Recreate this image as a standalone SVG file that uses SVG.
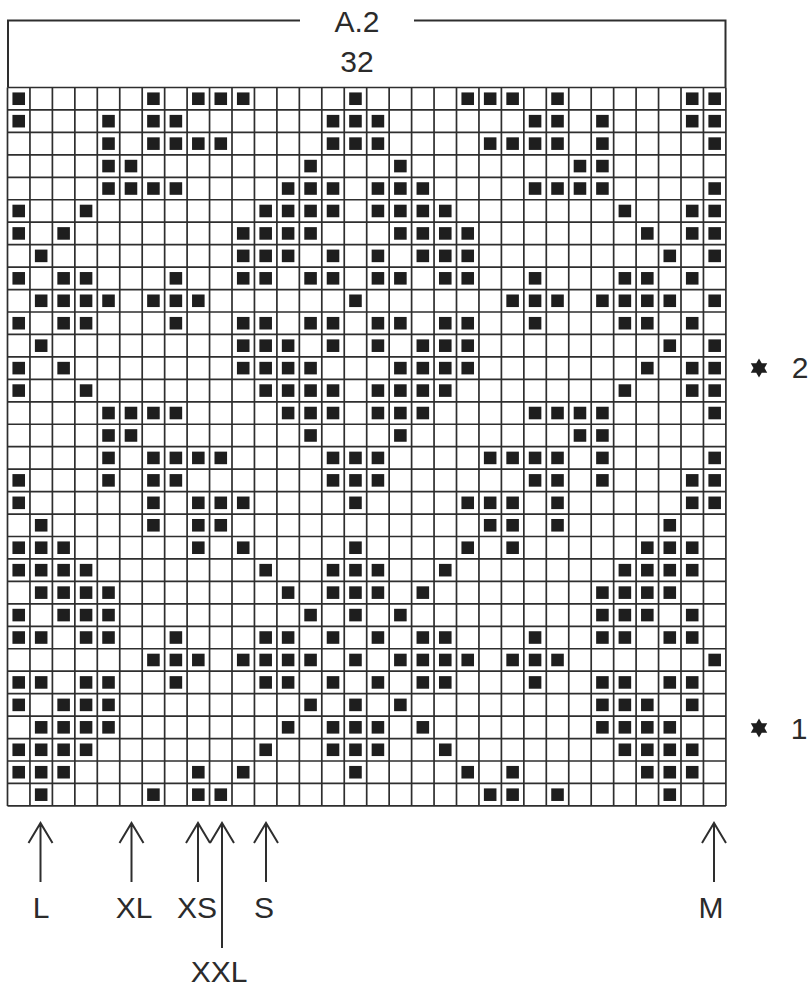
<svg xmlns="http://www.w3.org/2000/svg" xmlns:xlink="http://www.w3.org/1999/xlink" width="811" height="987" viewBox="0 0 811 987">
<style>
.t{font-family:"Liberation Sans",Arial,sans-serif;font-size:30px;fill:#2b2b2b;text-anchor:middle}
.ln{fill:none;stroke:#2e2e2e;stroke-width:2}
.grid{fill:none;stroke:#2e2e2e;stroke-width:1.7}
.sq{fill:#1e1e1e}
</style>
<defs>
<rect id="s" class="sq" x="0.22" y="0.22" width="0.56" height="0.56"/>
<g id="rA"><use href="#s" x="0"/><use href="#s" x="6"/><use href="#s" x="8"/><use href="#s" x="9"/><use href="#s" x="10"/><use href="#s" x="15"/><use href="#s" x="20"/><use href="#s" x="21"/><use href="#s" x="22"/><use href="#s" x="24"/><use href="#s" x="30"/><use href="#s" x="31"/></g>
<g id="rB"><use href="#s" x="0"/><use href="#s" x="4"/><use href="#s" x="6"/><use href="#s" x="7"/><use href="#s" x="14"/><use href="#s" x="15"/><use href="#s" x="16"/><use href="#s" x="23"/><use href="#s" x="24"/><use href="#s" x="26"/><use href="#s" x="30"/><use href="#s" x="31"/></g>
<g id="rC"><use href="#s" x="4"/><use href="#s" x="6"/><use href="#s" x="7"/><use href="#s" x="8"/><use href="#s" x="9"/><use href="#s" x="14"/><use href="#s" x="15"/><use href="#s" x="16"/><use href="#s" x="21"/><use href="#s" x="22"/><use href="#s" x="23"/><use href="#s" x="24"/><use href="#s" x="26"/><use href="#s" x="31"/></g>
<g id="rD"><use href="#s" x="4"/><use href="#s" x="5"/><use href="#s" x="13"/><use href="#s" x="17"/><use href="#s" x="25"/><use href="#s" x="26"/></g>
<g id="rE"><use href="#s" x="4"/><use href="#s" x="5"/><use href="#s" x="6"/><use href="#s" x="7"/><use href="#s" x="12"/><use href="#s" x="13"/><use href="#s" x="14"/><use href="#s" x="16"/><use href="#s" x="17"/><use href="#s" x="18"/><use href="#s" x="23"/><use href="#s" x="24"/><use href="#s" x="25"/><use href="#s" x="26"/><use href="#s" x="31"/></g>
<g id="rF"><use href="#s" x="0"/><use href="#s" x="3"/><use href="#s" x="11"/><use href="#s" x="12"/><use href="#s" x="13"/><use href="#s" x="14"/><use href="#s" x="16"/><use href="#s" x="17"/><use href="#s" x="18"/><use href="#s" x="19"/><use href="#s" x="27"/><use href="#s" x="30"/><use href="#s" x="31"/></g>
<g id="rG"><use href="#s" x="0"/><use href="#s" x="2"/><use href="#s" x="10"/><use href="#s" x="11"/><use href="#s" x="12"/><use href="#s" x="13"/><use href="#s" x="17"/><use href="#s" x="18"/><use href="#s" x="19"/><use href="#s" x="20"/><use href="#s" x="28"/><use href="#s" x="30"/><use href="#s" x="31"/></g>
<g id="rH"><use href="#s" x="1"/><use href="#s" x="10"/><use href="#s" x="11"/><use href="#s" x="12"/><use href="#s" x="14"/><use href="#s" x="16"/><use href="#s" x="18"/><use href="#s" x="19"/><use href="#s" x="20"/><use href="#s" x="29"/><use href="#s" x="31"/></g>
<g id="rI"><use href="#s" x="0"/><use href="#s" x="2"/><use href="#s" x="3"/><use href="#s" x="7"/><use href="#s" x="10"/><use href="#s" x="11"/><use href="#s" x="13"/><use href="#s" x="14"/><use href="#s" x="16"/><use href="#s" x="17"/><use href="#s" x="19"/><use href="#s" x="20"/><use href="#s" x="23"/><use href="#s" x="27"/><use href="#s" x="28"/><use href="#s" x="30"/></g>
<g id="rJ"><use href="#s" x="1"/><use href="#s" x="2"/><use href="#s" x="3"/><use href="#s" x="4"/><use href="#s" x="6"/><use href="#s" x="7"/><use href="#s" x="8"/><use href="#s" x="15"/><use href="#s" x="22"/><use href="#s" x="23"/><use href="#s" x="24"/><use href="#s" x="26"/><use href="#s" x="27"/><use href="#s" x="28"/><use href="#s" x="29"/><use href="#s" x="31"/></g>
<g id="rK"><use href="#s" x="1"/><use href="#s" x="6"/><use href="#s" x="8"/><use href="#s" x="9"/><use href="#s" x="21"/><use href="#s" x="22"/><use href="#s" x="24"/><use href="#s" x="29"/></g>
<g id="rL"><use href="#s" x="0"/><use href="#s" x="1"/><use href="#s" x="2"/><use href="#s" x="8"/><use href="#s" x="10"/><use href="#s" x="15"/><use href="#s" x="20"/><use href="#s" x="22"/><use href="#s" x="28"/><use href="#s" x="29"/><use href="#s" x="30"/></g>
<g id="rM"><use href="#s" x="0"/><use href="#s" x="1"/><use href="#s" x="2"/><use href="#s" x="3"/><use href="#s" x="11"/><use href="#s" x="14"/><use href="#s" x="15"/><use href="#s" x="16"/><use href="#s" x="19"/><use href="#s" x="27"/><use href="#s" x="28"/><use href="#s" x="29"/><use href="#s" x="30"/></g>
<g id="rN"><use href="#s" x="1"/><use href="#s" x="2"/><use href="#s" x="3"/><use href="#s" x="4"/><use href="#s" x="12"/><use href="#s" x="14"/><use href="#s" x="15"/><use href="#s" x="16"/><use href="#s" x="18"/><use href="#s" x="26"/><use href="#s" x="27"/><use href="#s" x="28"/><use href="#s" x="29"/></g>
<g id="rO"><use href="#s" x="0"/><use href="#s" x="2"/><use href="#s" x="3"/><use href="#s" x="4"/><use href="#s" x="13"/><use href="#s" x="15"/><use href="#s" x="17"/><use href="#s" x="26"/><use href="#s" x="27"/><use href="#s" x="28"/><use href="#s" x="30"/></g>
<g id="rP"><use href="#s" x="0"/><use href="#s" x="1"/><use href="#s" x="3"/><use href="#s" x="4"/><use href="#s" x="7"/><use href="#s" x="11"/><use href="#s" x="12"/><use href="#s" x="14"/><use href="#s" x="16"/><use href="#s" x="18"/><use href="#s" x="19"/><use href="#s" x="23"/><use href="#s" x="26"/><use href="#s" x="27"/><use href="#s" x="29"/><use href="#s" x="30"/></g>
<g id="rQ"><use href="#s" x="6"/><use href="#s" x="7"/><use href="#s" x="8"/><use href="#s" x="10"/><use href="#s" x="11"/><use href="#s" x="12"/><use href="#s" x="13"/><use href="#s" x="15"/><use href="#s" x="17"/><use href="#s" x="18"/><use href="#s" x="19"/><use href="#s" x="20"/><use href="#s" x="22"/><use href="#s" x="23"/><use href="#s" x="24"/><use href="#s" x="31"/></g>
<polygon id="star" points="0,-9.5 2.75,-4.76 8.23,-4.75 5.5,0 8.23,4.75 2.75,4.76 0,9.5 -2.75,4.76 -8.23,4.75 -5.5,0 -8.23,-4.75 -2.75,-4.76" fill="#1e1e1e"/>
</defs>
<rect width="811" height="987" fill="#ffffff"/>

<g id="header">
<path class="ln" d="M8,87.5V20.5H300M414,20.5H725.5V87.5"/>
<text class="t" x="357" y="32">A.2</text>
<text class="t" x="357" y="72">32</text>
</g>

<g id="chart" transform="translate(7.5,87.5) scale(22.45)">
<g id="cells">
<use href="#rA" y="0"/><use href="#rB" y="1"/><use href="#rC" y="2"/><use href="#rD" y="3"/>
<use href="#rE" y="4"/><use href="#rF" y="5"/><use href="#rG" y="6"/><use href="#rH" y="7"/>
<use href="#rI" y="8"/><use href="#rJ" y="9"/><use href="#rI" y="10"/><use href="#rH" y="11"/>
<use href="#rG" y="12"/><use href="#rF" y="13"/><use href="#rE" y="14"/><use href="#rD" y="15"/>
<use href="#rC" y="16"/><use href="#rB" y="17"/><use href="#rA" y="18"/><use href="#rK" y="19"/>
<use href="#rL" y="20"/><use href="#rM" y="21"/><use href="#rN" y="22"/><use href="#rO" y="23"/>
<use href="#rP" y="24"/><use href="#rQ" y="25"/><use href="#rP" y="26"/><use href="#rO" y="27"/>
<use href="#rN" y="28"/><use href="#rM" y="29"/><use href="#rL" y="30"/><use href="#rK" y="31"/>
</g>
<path class="grid" vector-effect="non-scaling-stroke" d="M0,0V32M1,0V32M2,0V32M3,0V32M4,0V32M5,0V32M6,0V32M7,0V32M8,0V32M9,0V32M10,0V32M11,0V32M12,0V32M13,0V32M14,0V32M15,0V32M16,0V32M17,0V32M18,0V32M19,0V32M20,0V32M21,0V32M22,0V32M23,0V32M24,0V32M25,0V32M26,0V32M27,0V32M28,0V32M29,0V32M30,0V32M31,0V32M32,0V32M0,0H32M0,1H32M0,2H32M0,3H32M0,4H32M0,5H32M0,6H32M0,7H32M0,8H32M0,9H32M0,10H32M0,11H32M0,12H32M0,13H32M0,14H32M0,15H32M0,16H32M0,17H32M0,18H32M0,19H32M0,20H32M0,21H32M0,22H32M0,23H32M0,24H32M0,25H32M0,26H32M0,27H32M0,28H32M0,29H32M0,30H32M0,31H32M0,32H32"/>
</g>

<g id="connectors">
<path class="ln" d="M40.5,823V882M28.5,843L40.5,823L52.5,843"/>
<path class="ln" d="M131.5,823V882M119.5,843L131.5,823L143.5,843"/>
<path class="ln" d="M198,823V882M186,843L198,823L210,843"/>
<path class="ln" d="M222,823V948M210,843L222,823L234,843"/>
<path class="ln" d="M266,823V882M254,843L266,823L278,843"/>
<path class="ln" d="M714,823V882M702,843L714,823L726,843"/>
</g>

<g id="labels">
<text class="t" x="41" y="918">L</text>
<text class="t" x="134" y="918">XL</text>
<text class="t" x="197" y="918">XS</text>
<text class="t" x="264" y="918">S</text>
<text class="t" x="711" y="918">M</text>
<text class="t" x="219" y="982">XXL</text>
</g>

<g id="markers">
<use href="#star" x="759" y="368"/>
<text class="t" x="800" y="378">2</text>
<use href="#star" x="759" y="728"/>
<text class="t" x="799" y="739">1</text>
</g>
</svg>
